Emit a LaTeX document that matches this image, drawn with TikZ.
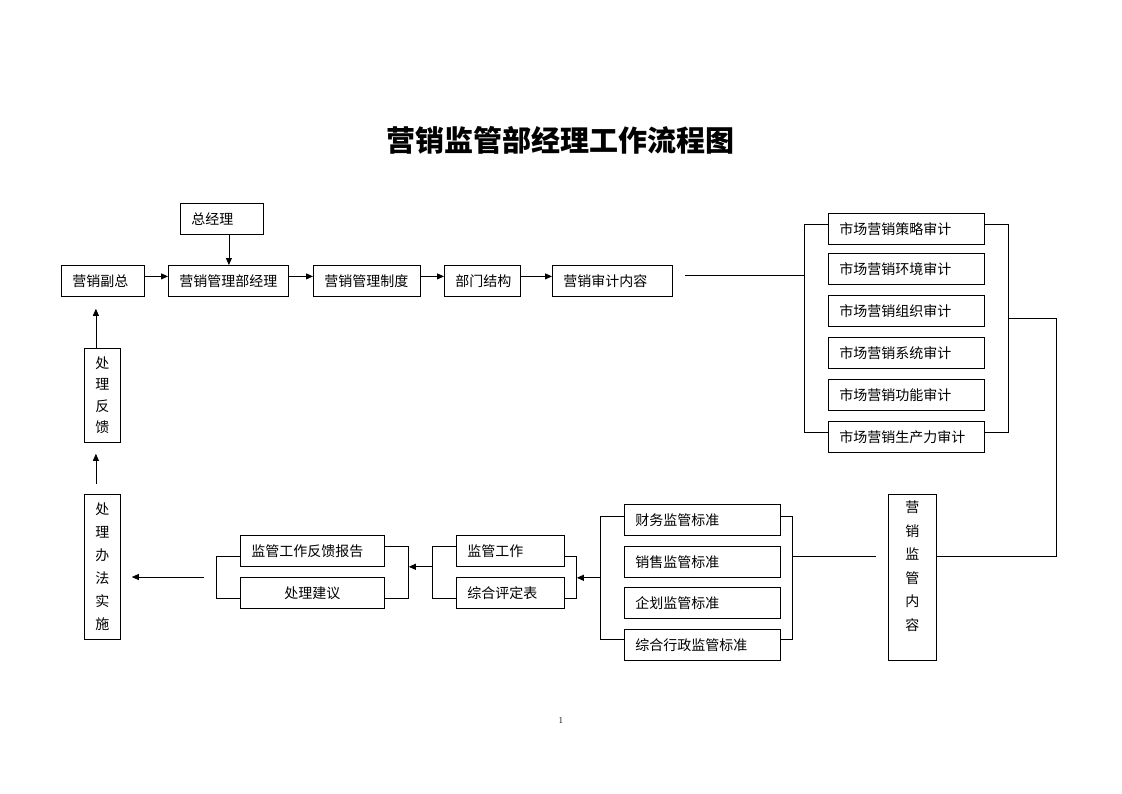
\documentclass[tikz,border=0pt]{standalone}
\usepackage{fontspec}
\newfontfamily\cjk{Noto Sans CJK SC}
\usetikzlibrary{arrows.meta}

\begin{document}
\begin{tikzpicture}[x=1pt, y=-1pt]
\tikzset{
  box/.style={draw, line width=0.8pt, anchor=north west, inner xsep=11pt,
    inner ysep=0pt, minimum height=31pt, align=left,
    font=\cjk\fontsize{14}{16}\selectfont},
  vbox/.style={draw, line width=0.8pt, anchor=north west, inner sep=0pt,
    align=center},
  link/.style={line width=0.8pt},
  go/.style={link, -{Triangle[length=7pt,width=6pt]}},
}
\useasboundingbox (0,0) rectangle (1122,793);

\node[font=\cjk\bfseries\fontsize{29}{32}\selectfont] (title) at (560,140) {营销监管部经理工作流程图};

% top row
\node[box, text width=61pt] (fz) at (61,265) {营销副总};
\node[box, text width=61pt] (zjl) at (180,203) {总经理};
\node[box, text width=98pt] (jl) at (168,265) {营销管理部经理};
\node[box, text width=85pt] (zd) at (313,265) {营销管理制度};
\node[box, text width=54pt] (bm) at (444,265) {部门结构};
\node[box, text width=98pt] (sj) at (552,265) {营销审计内容};

% audit items
\node[box, text width=134pt] (r1) at (828,213) {市场营销策略审计};
\node[box, text width=134pt] (r2) at (828,253) {市场营销环境审计};
\node[box, text width=134pt] (r3) at (828,295) {市场营销组织审计};
\node[box, text width=134pt] (r4) at (828,337) {市场营销系统审计};
\node[box, text width=134pt] (r5) at (828,379) {市场营销功能审计};
\node[box, text width=134pt] (r6) at (828,421) {市场营销生产力审计};

% standards
\node[box, text width=134pt] (b1) at (624,504) {财务监管标准};
\node[box, text width=134pt] (b2) at (624,546) {销售监管标准};
\node[box, text width=134pt] (b3) at (624,587) {企划监管标准};
\node[box, text width=134pt] (b4) at (624,629) {综合行政监管标准};

\node[box, text width=86pt] (jg) at (456,535) {监管工作};
\node[box, text width=86pt] (zh) at (456,577) {综合评定表};
\node[box, text width=122pt] (fb) at (240,535) {监管工作反馈报告};
\node[box, text width=122pt, align=center] (jy) at (240,577) {处理建议};

% vertical boxes
\node[vbox, minimum width=36pt, minimum height=94pt,
  font=\cjk\fontsize{14}{21.5}\selectfont] (fk) at (84,348) {处\\理\\反\\馈};
\node[vbox, minimum width=36pt, minimum height=145pt,
  font=\cjk\fontsize{14}{23}\selectfont] (ss) at (84,494) {处\\理\\办\\法\\实\\施};
\node[vbox, minimum width=48pt, minimum height=166pt,
  font=\cjk\fontsize{14}{23.5}\selectfont] (nr) at (888,494) {营\\销\\监\\管\\内\\容\\\mbox{}};

\node[font=\fontsize{9}{10}\selectfont] (pg) at (561,720) {1};

% top row arrows
\draw[go] ([yshift=4.5pt]fz.east) -- ([yshift=4.5pt]jl.west);
\draw[go] ([yshift=4.5pt]jl.east) -- ([yshift=4.5pt]zd.west);
\draw[go] ([yshift=4.5pt]zd.east) -- ([yshift=4.5pt]bm.west);
\draw[go] ([yshift=4.5pt]bm.east) -- ([yshift=4.5pt]sj.west);
\coordinate (zjls) at ([xshift=7pt]zjl.south);
\draw[go] (zjls) -- (zjls |- jl.north);

% audit brackets
\draw[link] ([yshift=5pt]r1.west) -- ++(-24,0) coordinate (al) |- ([yshift=5pt]r6.west);
\draw[link] ([yshift=5pt]r1.east) -- ++(24,0) coordinate (ar) |- ([yshift=5pt]r6.east);
\coordinate (sjo) at ([xshift=12pt,yshift=5.5pt]sj.east);
\draw[link] (sjo) -- (sjo -| al);
\coordinate (turn) at (1056,318);
\draw[link] (turn -| ar) -- (turn) |- ([yshift=21pt]nr.east);

% standards brackets
\draw[link] ([yshift=4pt]b1.east) -- ++(12,0) coordinate (br) |- ([yshift=5.5pt]b4.east);
\draw[link] ([yshift=4pt]b1.west) -- ++(-24,0) coordinate (bl) |- ([yshift=5.5pt]b4.west);
\coordinate (nro) at ([xshift=-12pt,yshift=21pt]nr.west);
\draw[link] (nro) -- (nro -| br);

% review brackets
\draw[link] ([yshift=-5pt]jg.east) -- ++(12,0) coordinate (mr) |- ([yshift=-5.5pt]zh.east);
\draw[link] ([yshift=5pt]jg.west) -- ++(-24,0) coordinate (ml) |- ([yshift=-5.5pt]zh.west);
\draw[link] ([yshift=5pt]fb.east) -- ++(24,0) coordinate (lr) |- ([yshift=-5.5pt]jy.east);
\draw[link] ([yshift=-5pt]fb.west) -- ++(-24,0) coordinate (ll) |- ([yshift=-5.5pt]jy.west);

\draw[go] (bl |- b2.south) -- (mr |- b2.south);
\draw[go] (ml |- jg.south) -- (lr |- jg.south);
\draw[go, shorten <=12pt, shorten >=11pt] (ll |- jy.north) -- (ss.east |- jy.north);

% feedback arrows
\coordinate (ssn) at ([xshift=-6.5pt]ss.north);
\draw[go, shorten <=10pt, shorten >=11pt] (ssn) -- (ssn |- fk.south);
\coordinate (fkn) at ([xshift=-6.5pt]fk.north);
\draw[go, shorten >=12pt] (fkn) -- (fkn |- fz.south);
\end{tikzpicture}
\end{document}
